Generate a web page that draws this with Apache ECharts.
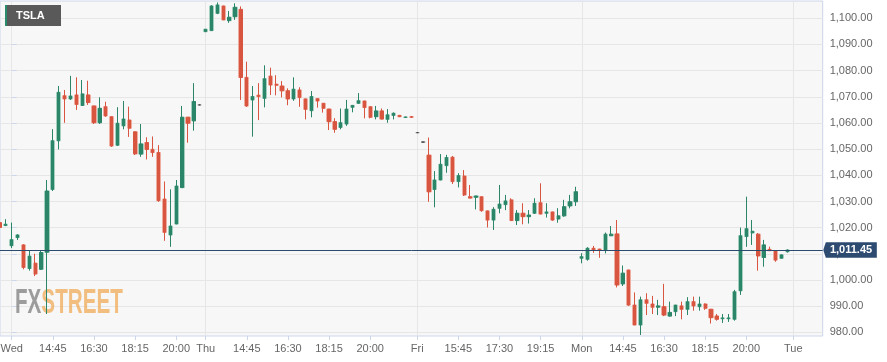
<!DOCTYPE html>
<html><head><meta charset="utf-8">
<script src="https://cdn.jsdelivr.net/npm/echarts@6/dist/echarts.min.js"></script>
<style>html,body{margin:0;padding:0;background:#fff}#c{width:887px;height:362px}</style>
</head><body><div id="c"></div>
<script>
// 15-minute slot index (0 = "Wed" tick)
const slots = [-2,-1,0,1,2,3,4,5,6,7,8,9,10,11,12,13,14,15,16,17,18,19,20,21,22,23,24,25,26,27,28,29,30,31,32,33,34,35,36,37,38,39,40,41,42,43,44,45,46,47,48,49,50,51,52,53,54,55,56,57,58,59,60,61,62,63,64,65,66,67,68,69,70,71,72,73,74,75,76,77,78,79,80,81,82,83,84,85,86,87,88,89,90,91,92,93,94,95,96,97,98,99,100,101,102,103,104,105,106,107,108,109,110,111,112,113,114,115,116,117,118,119,120,121,122,123,124,125,126,127,128,129,130,131,132];
const opens = [1021.9,1020.8,1013.1,1016.2,1013.4,1004.4,1006.4,1004.1,1010.6,1034.6,1053.2,1070.4,1069.2,1070.7,1066.7,1070.7,1066.5,1060.1,1066.2,1062.4,1051.5,1058.9,1061.1,1056.6,1048.1,1052.5,1049.9,1048.7,1030.9,1017.2,1021.4,1035.3,1062.2,1060.8,1066.9,1094.9,1095.3,1101.9,1104.7,1099.1,1100.6,1103.4,1077.4,1068.8,1070.6,1069.4,1077.9,1074.8,1074.1,1072.3,1069.2,1072.6,1069.2,1064.7,1069.3,1067.5,1065.3,1060.5,1058.3,1059.6,1066.0,1067.5,1068.4,1066.2,1062.4,1064.6,1061.4,1062.9,1062.9,1062.1,1062.4,1056.3,1052.7,1047.7,1034.6,1038.2,1043.7,1046.9,1037.6,1039.7,1031.8,1031.6,1031.8,1026.4,1022.9,1027.4,1028.8,1030.6,1022.7,1025.5,1024.2,1025.5,1029.5,1025.5,1026.0,1023.3,1024.5,1028.3,1029.9,1008.3,1007.9,1012.1,1011.8,1011.5,1016.9,1017.6,998.5,1003.8,990.4,982.8,992.4,990.8,989.6,989.8,986.2,987.9,990.1,988.8,991.7,989.8,990.8,988.8,986.2,985.2,985.2,985.0,995.9,1016.6,1018.0,1017.5,1008.6,1011.7,1011.2,1008.3,1010.8];
const closes = [1020.1,1021.3,1015.4,1017.2,1004.8,1009.1,1002.3,1010.5,1034.0,1053.2,1071.7,1069.2,1070.3,1067.1,1071.1,1067.8,1060.1,1065.6,1062.7,1051.2,1059.9,1061.5,1058.0,1048.2,1052.0,1049.9,1048.7,1030.3,1018.2,1020.6,1035.9,1062.2,1059.9,1068.2,1066.9,1095.8,1104.7,1105.1,1099.4,1100.4,1104.2,1077.4,1066.5,1070.1,1070.1,1076.9,1074.5,1074.4,1072.3,1069.2,1072.9,1069.7,1065.2,1070.1,1068.4,1065.6,1060.5,1057.6,1060.1,1065.3,1066.7,1068.5,1065.9,1062.2,1064.6,1061.5,1063.1,1063.7,1062.4,1062.3,1062.2,1056.3,1052.7,1033.7,1038.2,1044.2,1046.8,1037.6,1039.9,1032.5,1031.3,1032.1,1026.5,1022.9,1027.0,1029.0,1030.2,1022.7,1025.5,1024.2,1024.8,1029.3,1025.2,1026.0,1022.9,1024.5,1028.0,1029.9,1033.7,1008.9,1012.1,1011.5,1011.5,1017.5,1017.5,998.1,1002.6,990.4,982.8,992.4,991.1,989.6,990.1,986.6,987.6,990.4,988.8,991.7,990.1,990.8,989.2,985.6,985.0,985.5,985.5,995.5,1016.9,1019.6,1018.6,1009.2,1013.4,1011.2,1007.6,1009.6,1011.45];
const lows = [1015.5,1020.6,1012.2,1015.3,1004.1,1003.6,1001.5,1003.8,987.0,1034.0,1049.9,1060.1,1068.8,1065.0,1066.5,1066.9,1059.6,1059.6,1062.4,1050.9,1051.2,1057.6,1054.7,1047.8,1047.1,1046.1,1047.1,1029.9,1015.0,1012.7,1021.4,1035.3,1052.5,1057.1,1066.9,1094.9,1095.3,1101.6,1099.4,1098.3,1099.4,1068.8,1066.2,1054.8,1061.1,1066.0,1070.7,1070.6,1069.8,1066.8,1068.5,1066.2,1061.4,1062.2,1065.9,1064.0,1057.3,1056.3,1057.6,1058.9,1064.1,1067.5,1061.8,1061.8,1061.4,1061.4,1060.1,1061.4,1062.4,1062.1,1061.9,1056.3,1052.7,1029.9,1027.8,1038.2,1041.0,1036.7,1035.4,1032.1,1031.3,1027.0,1026.1,1020.1,1019.1,1025.5,1026.7,1022.7,1021.0,1021.3,1021.6,1025.2,1025.2,1023.9,1022.7,1021.9,1024.2,1027.4,1028.3,1006.4,1007.4,1010.4,1008.5,1010.2,1016.9,997.2,997.7,990.2,982.8,979.0,986.6,987.0,986.6,986.2,986.0,986.2,985.0,986.6,988.3,988.3,988.6,983.4,984.5,983.6,984.0,984.5,994.3,1012.7,1013.4,1003.6,1005.1,1011.2,1007.0,1008.3,1010.5];
const highs = [1021.9,1023.2,1021.9,1017.4,1013.6,1011.2,1010.0,1011.3,1038.2,1057.6,1074.1,1072.6,1078.0,1077.4,1076.4,1076.1,1066.5,1069.8,1068.1,1062.4,1066.0,1068.4,1066.2,1056.6,1059.6,1054.5,1054.8,1051.5,1037.6,1034.6,1038.2,1066.5,1062.2,1075.2,1066.9,1095.8,1104.9,1106.0,1104.7,1102.8,1105.7,1104.5,1083.4,1074.1,1075.2,1082.0,1081.1,1078.2,1076.0,1073.2,1077.4,1073.6,1069.2,1072.2,1069.3,1067.5,1065.3,1061.8,1065.5,1068.8,1066.7,1071.4,1068.4,1066.2,1066.5,1065.5,1065.3,1064.0,1062.9,1062.3,1062.6,1056.3,1052.7,1054.4,1041.6,1048.1,1047.8,1047.4,1040.8,1042.0,1036.3,1032.1,1031.8,1026.4,1027.8,1036.3,1032.5,1031.2,1026.7,1029.3,1026.7,1031.2,1036.9,1029.3,1026.0,1027.4,1030.6,1032.5,1035.6,1010.2,1012.5,1013.0,1011.8,1018.1,1020.6,1022.9,1005.5,1003.8,995.2,993.6,994.9,993.9,992.4,998.5,991.7,990.4,991.7,993.4,993.6,993.6,991.0,988.8,987.0,987.0,987.0,996.2,1020.0,1031.8,1022.9,1017.9,1015.3,1012.7,1011.2,1009.6,1011.6];

const tickPos  = [0,7,14,21,28,33,40,47,54,61,69,76,83,90,97,104,111,118,125,133];
const tickText = ['Wed','14:45','16:30','18:15','20:00','Thu','14:45','16:30','18:15','20:00','Fri','15:45','17:30','19:15','Mon','14:45','16:30','18:15','20:00','Tue'];
const dayPos   = [0,33,69,97,133];
const yTicks   = [980,990,1000,1010,1020,1030,1040,1050,1060,1070,1080,1090,1100];
const lastPrice = 1011.45;
const symbolName = 'TSLA';

const xMin = -1.991, xMax = 138.0;
const yMin = 978.59, yMax = 1106.61;

function fmt(v){
  return Number(v).toLocaleString('en-US',{minimumFractionDigits:2,maximumFractionDigits:2});
}

const candles = slots.map((x,i)=>[x, opens[i], closes[i], lows[i], highs[i]]);

const chart = echarts.init(document.getElementById('c'), null, {renderer:'canvas'});
const FONT = 'Liberation Sans';
chart.setOption({
  animation:false,
  textStyle:{fontFamily:FONT},
  grid:{left:0, right:64.3, top:1, bottom:26, show:true, backgroundColor:'#f7f7f7',
        borderColor:'#ccd6eb', borderWidth:1, outerBoundsMode:'none', containLabel:false},
  xAxis:[
    {type:'value', min:xMin, max:xMax,
     axisLine:{show:false},
     axisTick:{show:true, length:4, lineStyle:{color:'#ccd6eb'}, customValues:tickPos},
     axisLabel:{customValues:tickPos, formatter:(v)=>tickText[tickPos.indexOf(v)],
                color:'#666', fontSize:11, fontFamily:FONT, margin:7},
     splitLine:{show:false}},
    {type:'value', min:xMin, max:xMax,
     axisLine:{show:false},
     axisTick:{show:false, customValues:dayPos},
     axisLabel:{show:false, customValues:dayPos},
     splitLine:{show:true, lineStyle:{color:'#e6e6e6', width:1}, customValues:dayPos}}
  ],
  yAxis:{type:'value', position:'right', min:yMin, max:yMax,
     axisLine:{show:false},
     axisTick:{show:true, length:5, lineStyle:{color:'#ccd6eb'}, customValues:yTicks},
     axisLabel:{customValues:yTicks, formatter:(v)=>fmt(v), color:'#666', fontSize:11, fontFamily:FONT, margin:7},
     splitLine:{show:true, lineStyle:{color:'#e6e6e6', width:1}}},
  series:[
    {type:'candlestick', name:'outline', data:candles, barWidth:4.6, z:2, silent:true,
     itemStyle:{color:'#a3cfbe', color0:'#efaca1', borderColor:'#a3cfbe', borderColor0:'#efaca1',
                borderColorDoji:'#c8c8c8', borderWidth:1}},
    {type:'candlestick', name:symbolName, data:candles, barWidth:2.8, z:3,
     itemStyle:{color:'#2b8568', color0:'#d8553f', borderColor:'#2b8568', borderColor0:'#d8553f',
                borderColorDoji:'#444', borderWidth:1}},
    {type:'line', data:[], z:5, clip:false,
     markLine:{silent:true, symbol:['none','none'], label:{show:false},
               lineStyle:{color:'#2a4a6e', width:1, type:'solid'},
               data:[{yAxis:lastPrice}]},
     markPoint:{silent:true,
               symbol:'path://M0,7.7L2.5,0L53.5,0L53.5,15.4L2.5,15.4Z',
               symbolSize:[53.5,15.4], symbolKeepAspect:false, symbolOffset:[27.35,0],
               itemStyle:{color:'#2d4b70'},
               label:{show:true, position:'inside', formatter:fmt(lastPrice), color:'#fff',
                      fontWeight:'bold', fontSize:11, fontFamily:FONT, offset:[1,0]},
               data:[{coord:[xMax-0.001, lastPrice]}]}}
  ],
  graphic:[
    {type:'group', x:15, y:0, scaleX:0.59, z:1, silent:true, children:[
      {type:'text', x:0, y:303.5, z:1, style:{text:'FX', font:'bold 35px "Liberation Sans"', fill:'rgba(125,125,125,0.75)', verticalAlign:'middle'}},
      {type:'text', x:44.7, y:303.5, z:1, style:{text:'STREET', font:'bold 35px "Liberation Sans"', fill:'rgba(240,168,80,0.72)', verticalAlign:'middle'}}
    ]},
    {type:'rect', z:10, silent:true, shape:{x:5,y:5,width:56,height:21}, style:{fill:'#595959'}},
    {type:'rect', z:11, silent:true, shape:{x:5,y:5,width:2,height:21}, style:{fill:'#2c8a6c'}},
    {type:'text', z:11, silent:true, x:16, y:16, style:{text:symbolName, fill:'#fff', font:'bold 11px "Liberation Sans"', verticalAlign:'middle'}}
  ]
});
</script>
</body></html>
